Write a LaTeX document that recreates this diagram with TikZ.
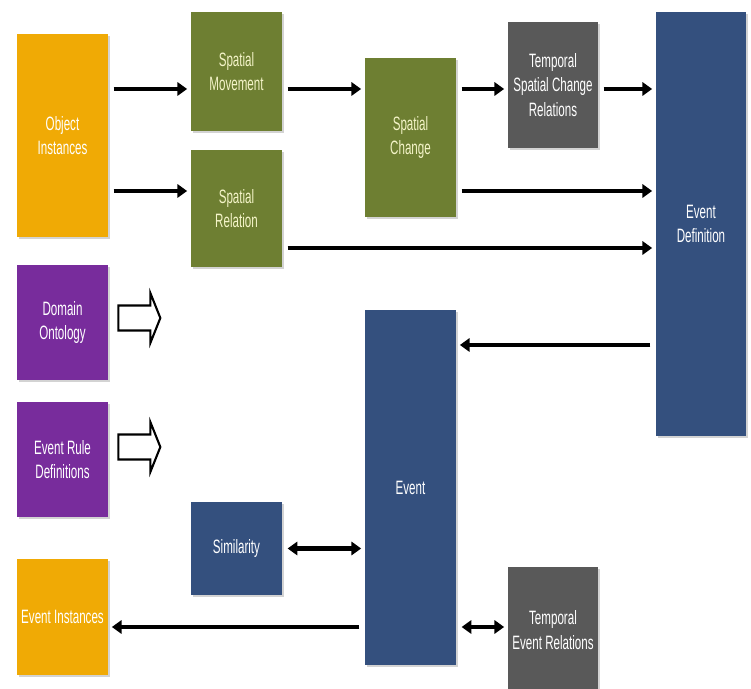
\documentclass[tikz,border=0pt]{standalone}
\usepackage{tikz}
\usepackage{xcolor}
\usepackage{fontspec}
\usetikzlibrary{shadows,arrows.meta}
\newfontfamily\boxfont{Liberation Sans}[FakeStretch=0.6]

\definecolor{boxorange}{HTML}{F0AA05}
\definecolor{boxolive}{HTML}{6E7F32}
\definecolor{boxgray}{HTML}{595959}
\definecolor{boxblue}{HTML}{34507E}
\definecolor{boxpurple}{HTML}{782C9C}
\definecolor{olivetext}{HTML}{F4F4C8}

\begin{document}
\begin{tikzpicture}[
    box/.style={rectangle, minimum width=1.82cm, inner sep=1pt, align=center,
      font=\boxfont\fontsize{11}{14}\selectfont, text=white,
      drop shadow={opacity=0.35, shadow xshift=0.04cm, shadow yshift=-0.05cm}},
    obox/.style={box, fill=boxorange},
    gbox/.style={box, fill=boxolive, text=olivetext},
    tbox/.style={box, fill=boxgray, minimum width=1.8cm},
    bbox/.style={box, fill=boxblue},
    pbox/.style={box, fill=boxpurple},
    flow/.style={line width=2.3pt, shorten <=3pt, shorten >=2pt,
      -{Triangle[length=5.5pt, width=7.5pt]}},
    twoway/.style={flow, {Triangle[length=5.5pt, width=7.5pt]}-{Triangle[length=5.5pt, width=7.5pt]}},
    hollow/.style={draw=black, line width=1.2pt, fill=white}
  ]
  \useasboundingbox (0,0) rectangle (15.02,13.78);

  % input boxes on the left
  \node[obox, minimum height=4.06cm] (obj) at (1.25,11.07) {Object\\Instances};
  \node[pbox, minimum height=2.30cm] (dom) at (1.25,7.33) {Domain\\Ontology};
  \node[pbox, minimum height=2.30cm] (rule) at (1.25,4.59) {Event Rule\\Definitions};
  \node[obox, minimum height=2.32cm] (inst) at (1.25,1.44) {Event Instances};

  % spatial part
  \node[gbox, minimum height=2.38cm] (move) at (4.73,12.35) {Spatial\\Movement};
  \node[gbox, minimum height=2.34cm] (rel) at (4.73,9.61) {Spatial\\Relation};
  \node[gbox, minimum height=3.18cm] (change) at (8.21,11.03) {Spatial\\Change};
  \node[tbox, minimum height=2.52cm] (tscr) at (11.06,12.08) {Temporal\\Spatial Change\\Relations};

  % events
  \node[bbox, minimum width=1.8cm, minimum height=8.48cm] (evdef) at (14.02,9.30) {Event\\Definition};
  \node[bbox, minimum height=7.10cm] (event) at (8.21,4.03) {Event};
  \node[bbox, minimum height=1.86cm] (sim) at (4.73,2.81) {Similarity};
  \node[tbox, minimum height=2.52cm] (ter) at (11.06,1.18) {Temporal\\Event Relations};

  % levels of the arrows
  \coordinate (row1) at (0,12.0);
  \coordinate (row2) at (0,9.96);
  \coordinate (row3) at (0,8.82);
  \coordinate (row4) at (0,6.88);
  \coordinate (row6) at (0,1.24);

  \draw[flow] (obj.east |- row1) -- (move.west |- row1);
  \draw[flow] (move.east |- row1) -- (change.west |- row1);
  \draw[flow] (change.east |- row1) -- (tscr.west |- row1);
  \draw[flow] (tscr.east |- row1) -- (evdef.west |- row1);
  \draw[flow] (obj.east |- row2) -- (rel.west |- row2);
  \draw[flow] (change.east |- row2) -- (evdef.west |- row2);
  \draw[flow] (rel.east |- row3) -- (evdef.west |- row3);
  \draw[flow] (evdef.west |- row4) -- (event.east |- row4);
  \draw[twoway] (sim.east) -- (event.west |- sim.east);
  \draw[twoway] (event.east |- row6) -- (ter.west |- row6);
  \draw[flow] (event.west |- row6) -- (inst.east |- row6);

  % hollow block arrows
  \draw[hollow] ([xshift=0.2cm, yshift=0.09cm]dom.east) ++(0,0.25) -- ++(0.64,0) -- ++(0,0.25)
    -- ++(0.2,-0.5) -- ++(-0.2,-0.5) -- ++(0,0.25) -- ++(-0.64,0) -- cycle;
  \draw[hollow] ([xshift=0.2cm, yshift=0.25cm]rule.east) ++(0,0.25) -- ++(0.64,0) -- ++(0,0.25)
    -- ++(0.2,-0.5) -- ++(-0.2,-0.5) -- ++(0,0.25) -- ++(-0.64,0) -- cycle;
\end{tikzpicture}
\end{document}
